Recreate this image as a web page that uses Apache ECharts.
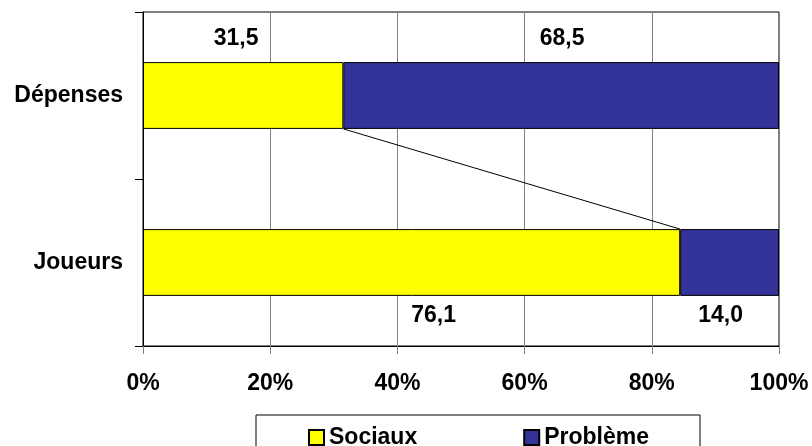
<!DOCTYPE html>
<html>
<head>
<meta charset="utf-8">
<script src="https://cdn.jsdelivr.net/npm/echarts@6/dist/echarts.min.js"></script>
<style>
html, body { margin: 0; padding: 0; background: #fff; }
#main { width: 812px; height: 446px; }
</style>
</head>
<body>
<div id="main"></div>
<script>
var categories = ['Dépenses', 'Joueurs'];
var sociaux = [31.5, 76.1];
var probleme = [68.5, 14.0];
var xTicks = [0, 20, 40, 60, 80, 100];

var font = "'Liberation Sans', Arial, sans-serif";

// 100% stacked shares
var sociauxPct = [], problemePct = [];
for (var i = 0; i < categories.length; i++) {
	var t = sociaux[i] + probleme[i];
	sociauxPct.push(sociaux[i] / t * 100);
	problemePct.push(probleme[i] / t * 100);
}

function fmt(v) {
	return v.toFixed(1).replace('.', ',');
}

// label placement (Dépenses above, Joueurs below)
var labelPos = ['top', 'bottom'];
var labelDist = [12, 8];
var socOffset = [[-7, 0], [22, 0]];
var proOffset = [[1, 0], [-9, 0]];

function buildData(pct, offsets) {
	return pct.map(function (v, i) {
		return {
			value: v,
			label: { position: labelPos[i], distance: labelDist[i], offset: offsets[i] }
		};
	});
}

var labelStyle = {
	show: true,
	color: '#000',
	fontFamily: font,
	fontWeight: 'bold',
	fontSize: 23,
	lineHeight: 23
};

var chart = echarts.init(document.getElementById('main'));

chart.setOption({
	animation: false,
	backgroundColor: '#fff',
	grid: {
		left: 143,
		right: 33,
		top: 12,
		bottom: 100,
		show: true,
		borderColor: '#000',
		borderWidth: 1
	},
	legend: {
		data: ['Sociaux', 'Problème'],
		left: 256,
		top: 415,
		padding: [11, 51, 20, 52],
		itemGap: 106,
		itemWidth: 15,
		itemHeight: 15,
		borderColor: '#000',
		borderWidth: 1,
		borderRadius: 0,
		icon: 'rect',
		textStyle: { color: '#000', fontFamily: font, fontWeight: 'bold', fontSize: 23 }
	},
	xAxis: {
		type: 'value',
		min: xTicks[0],
		max: xTicks[xTicks.length - 1],
		interval: 20,
		axisLine: { show: true, lineStyle: { color: '#000' } },
		axisTick: { show: true, length: 8, lineStyle: { color: '#808080' } },
		splitLine: { show: true, lineStyle: { color: '#808080', width: 1 } },
		axisLabel: {
			margin: 26,
			color: '#000',
			fontFamily: font,
			fontWeight: 'bold',
			fontSize: 23,
			formatter: '{value}%'
		}
	},
	yAxis: {
		type: 'category',
		inverse: true,
		data: categories,
		axisLine: { show: true, lineStyle: { color: '#000' } },
		axisTick: { show: true, length: 8, lineStyle: { color: '#000' } },
		splitLine: { show: false },
		axisLabel: {
			margin: 20,
			color: '#000',
			fontFamily: font,
			fontWeight: 'bold',
			fontSize: 23
		}
	},
	series: [
		{
			name: 'Sociaux',
			type: 'bar',
			stack: 'total',
			barWidth: '40%',
			itemStyle: { color: '#FFFF00', borderColor: '#000', borderWidth: 1 },
			label: Object.assign({}, labelStyle, {
				formatter: function (p) { return fmt(sociaux[p.dataIndex]); }
			}),
			data: buildData(sociauxPct, socOffset)
		},
		{
			name: 'Problème',
			type: 'bar',
			stack: 'total',
			barWidth: '40%',
			itemStyle: { color: '#333399', borderColor: '#000', borderWidth: 1 },
			label: Object.assign({}, labelStyle, {
				formatter: function (p) { return fmt(probleme[p.dataIndex]); }
			}),
			data: buildData(problemePct, proOffset)
		},
		{
			// series line joining the Sociaux ends of both bars
			name: 'connector',
			type: 'custom',
			silent: true,
			encode: { x: 0, y: 2 },
			data: [[sociauxPct[0], sociauxPct[1], 0]],
			renderItem: function (params, api) {
				var p0 = api.coord([api.value(0), 0]);
				var p1 = api.coord([api.value(1), 1]);
				var half = api.size([0, 1])[1] * 0.4 / 2;
				return {
					type: 'line',
					shape: { x1: p0[0], y1: p0[1] + half, x2: p1[0], y2: p1[1] - half },
					style: { stroke: '#000', lineWidth: 1 }
				};
			}
		}
	]
});

window.onresize = function () {
	chart.resize();
};
</script>
</body>
</html>
